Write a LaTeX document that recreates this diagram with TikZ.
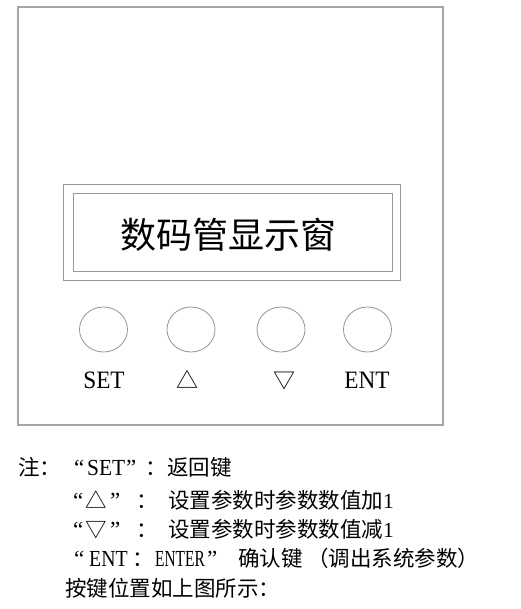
\documentclass[tikz,border=0pt]{standalone}
\usepackage{fontspec}
\setmainfont{Liberation Serif}
\newfontfamily\cjk{Noto Sans CJK SC}
\usetikzlibrary{shapes.geometric}

\begin{document}
\begin{tikzpicture}[x=1pt,y=-1pt]
    \tikzstyle{frame} = [draw=gray!70, line width=1.3pt]
    \tikzstyle{win} = [draw=gray!80, line width=0.8pt]
    \tikzstyle{btn} = [draw=gray!85, line width=0.8pt, ellipse, minimum width=48pt, minimum height=45pt, inner sep=0pt]
    \tikzstyle{key} = [anchor=base, inner sep=0pt, font=\fontsize{25}{25}\selectfont]
    \tikzstyle{note} = [anchor=base west, inner sep=0pt, font=\fontsize{21.5}{21.5}\selectfont]
    \tikzstyle{lat} = [anchor=base west, inner sep=0pt, font=\fontsize{23}{23}\selectfont]
    \useasboundingbox (0,0) rectangle (520,609);
    % panel and display window
    \draw [frame] (18,7) rectangle (443,425);
    \draw [win] (63,184) rectangle (400,280);
    \draw [win] (73,193) rectangle (392,271);
    \node (disp) [anchor=base, inner sep=0pt] at (228,248) {\fontsize{36}{36}\selectfont\cjk 数码管显示窗};
    % keys
    \node (set) [btn] at (103.5,329.5) {};
    \node (up) [btn] at (191,329.5) {};
    \node (down) [btn] at (281,329.5) {};
    \node (ent) [btn] at (367.5,329.5) {};
    \node (setl) [key] at (104,388) {\scalebox{0.93}[1]{SET}};
    \node (upl) [key,font=\fontsize{22}{22}\selectfont] at (187,388) {\cjk △};
    \node (downl) [key,font=\fontsize{22}{22}\selectfont] at (284.5,388) {\cjk ▽};
    \node (entl) [key] at (367,388) {\scalebox{0.93}[1]{ENT}};
    % notes
    \node (n1a) [note] at (18,475) {\cjk 注：};
    \node (n1q) [lat] at (74,475) {“};
    \node (n1b) [lat] at (87,475) {\scalebox{0.93}[1]{SET}};
    \node (n1r) [lat] at (126,475) {”};
    \node (n1c) [note] at (145,475) {\cjk ：};
    \node (n1d) [note] at (167,475) {\cjk 返回键};
    \node (n2q) [lat] at (73,508) {“};
    \node (n2a) [note] at (85,508) {\cjk △};
    \node (n2r) [lat] at (110,508) {”};
    \node (n2c) [note] at (136,508) {\cjk ：};
    \node (n2b) [note] at (168,508) {{\cjk 设置参数时参数数值加}1};
    \node (n3q) [lat] at (73,537) {“};
    \node (n3a) [note] at (85,537) {\cjk ▽};
    \node (n3r) [lat] at (110,537) {”};
    \node (n3c) [note] at (136,537) {\cjk ：};
    \node (n3b) [note] at (168,537) {{\cjk 设置参数时参数数值减}1};
    \node (n4q) [lat] at (74,566) {“};
    \node (n4a) [lat] at (89,566) {\scalebox{0.86}[1]{ENT}};
    \node (n4c) [note] at (132,566) {\cjk ：};
    \node (n4b) [lat] at (155,566) {\scalebox{0.67}[1]{ENTER}};
    \node (n4r) [lat] at (207,566) {”};
    \node (n4d) [note] at (238,566) {\cjk 确认键};
    \node (n4e) [note] at (307,566) {\cjk （调出系统参数）};
    \node (n5) [note] at (65,596) {\cjk 按键位置如上图所示：};
\end{tikzpicture}
\end{document}
